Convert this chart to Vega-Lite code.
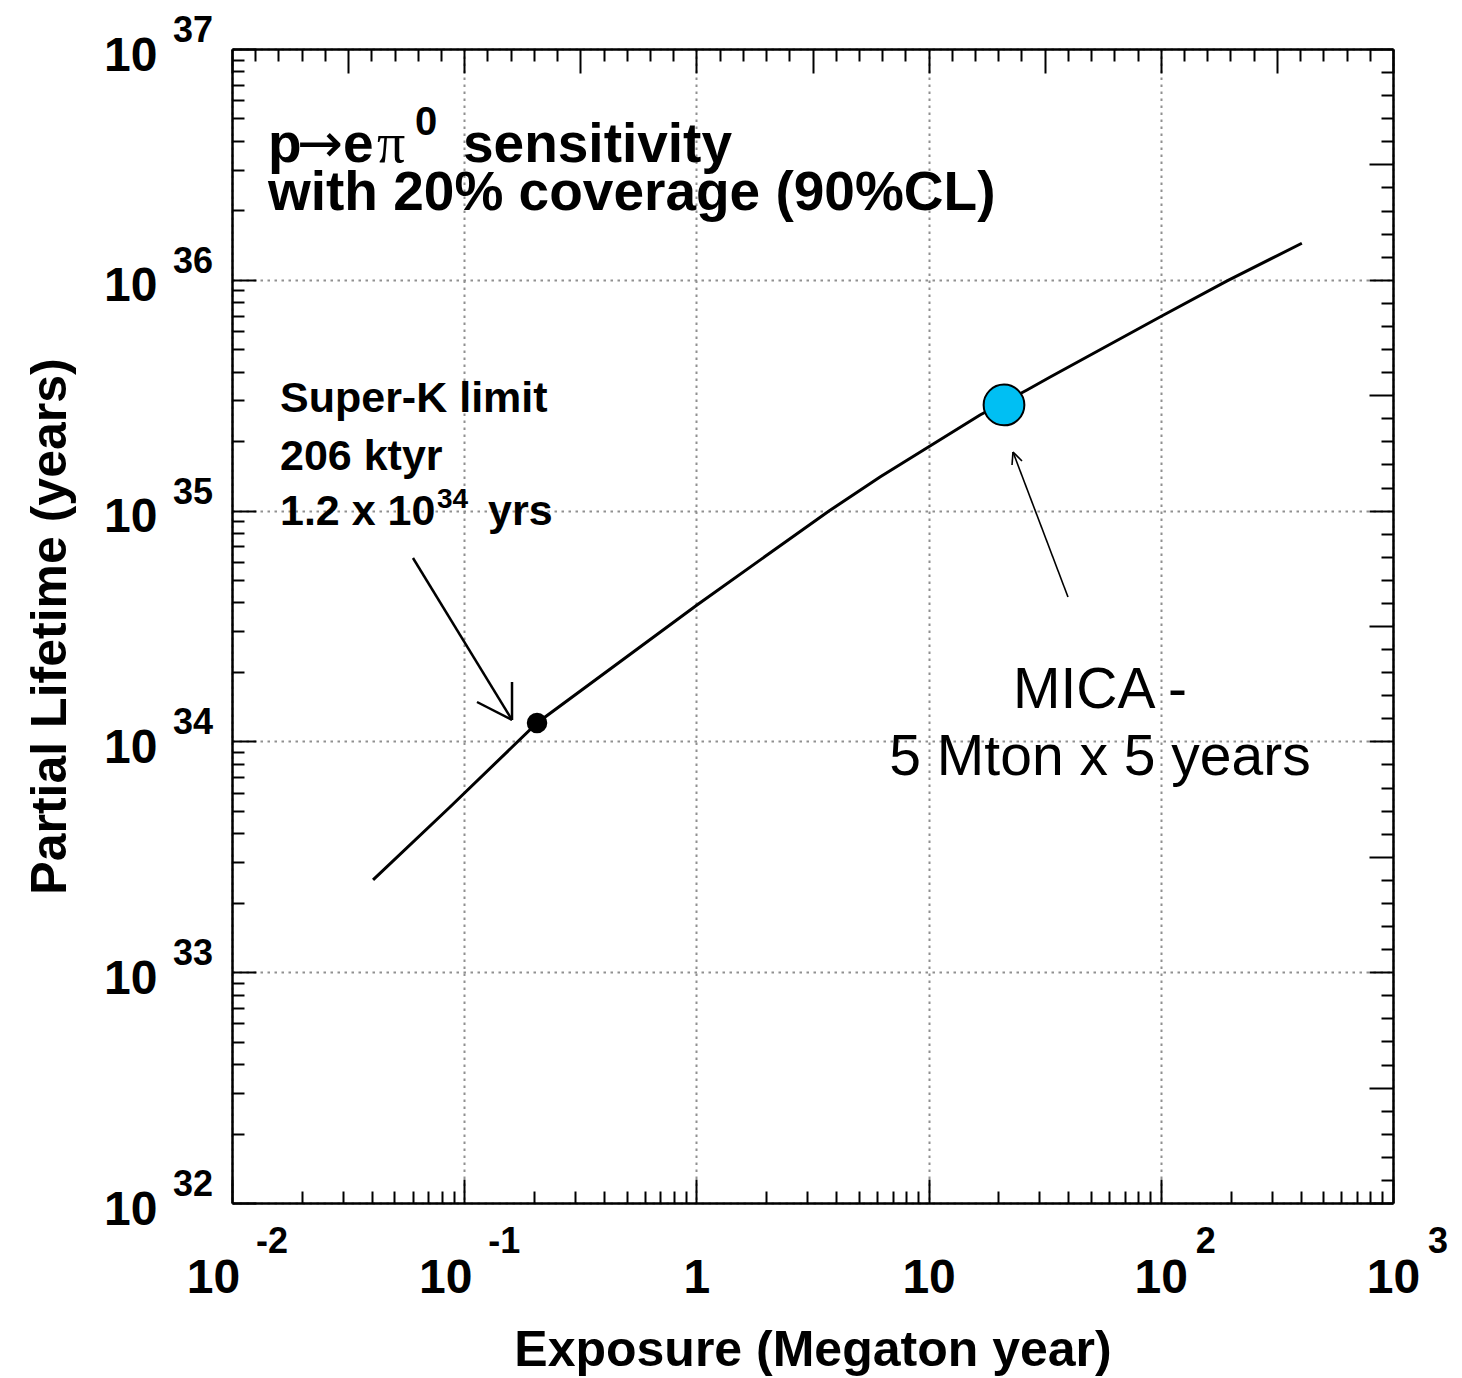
{
  "$schema": "https://vega.github.io/schema/vega-lite/v6.json",
  "width": 1161,
  "height": 1154,
  "autosize": {"type": "none"},
  "padding": {"left": 232, "top": 49, "right": 69, "bottom": 175},
  "background": "white",
  "config": {"view": {"stroke": null}, "font": "Liberation Sans"},
  "layer": [
    {
      "data": {"values": [
        {"exposure": 0.0405, "lifetime": 2.51e33},
        {"exposure": 0.08687, "lifetime": 5.197e33},
        {"exposure": 0.2059, "lifetime": 1.2015e34},
        {"exposure": 1.006, "lifetime": 3.90e34},
        {"exposure": 3.724, "lifetime": 9.96e34},
        {"exposure": 6.175, "lifetime": 1.398e35},
        {"exposure": 16.65, "lifetime": 2.596e35},
        {"exposure": 26.53, "lifetime": 3.331e35},
        {"exposure": 33.4, "lifetime": 3.79e35},
        {"exposure": 101, "lifetime": 6.97e35},
        {"exposure": 193, "lifetime": 9.89e35},
        {"exposure": 405, "lifetime": 1.44e36}
      ]},
      "mark": {"type": "line", "color": "black", "strokeWidth": 3},
      "encoding": {
        "x": {
          "field": "exposure", "type": "quantitative",
          "scale": {"type": "log", "domain": [0.01, 1000], "nice": false, "zero": false},
          "axis": {
            "orient": "bottom",
            "values": [0.01,0.02,0.03,0.04,0.05,0.06,0.07,0.08,0.09,0.1,0.2,0.3,0.4,0.5,0.6,0.7,0.8,0.9,1,2,3,4,5,6,7,8,9,10,20,30,40,50,60,70,80,90,100,200,300,400,500,600,700,800,900,1000],
            "labelExpr": "datum.value == 1 ? '1' : (abs(log(datum.value)/LN10 - round(log(datum.value)/LN10)) < 0.001 ? '10' : '')",
            "labelFont": "Liberation Sans", "labelFontWeight": "bold", "labelFontSize": 48, "labelColor": "black",
            "labelBaseline": "alphabetic", "labelAlign": "center",
            "labelPadding": 113,
            "labelOffset": {"condition": {"test": "datum.value < 0.5", "value": -19}, "value": 0},
            "labelOverlap": false, "labelFlush": false, "labelBound": false,
            "tickSize": {"condition": {"test": "abs(log(datum.value)/LN10 - round(log(datum.value)/LN10)) < 0.001", "value": -24}, "value": -12},
            "tickColor": "black", "tickWidth": 2,
            "grid": true, "gridColor": "#909090", "gridDash": [2.5, 4.5], "gridWidth": 2,
            "gridOpacity": {"condition": {"test": "abs(log(datum.value)/LN10 - round(log(datum.value)/LN10)) < 0.001", "value": 1}, "value": 0},
            "domainColor": "black", "domainWidth": 2.5,
            "title": "Exposure (Megaton year)",
            "titleFont": "Liberation Sans", "titleFontSize": 50, "titleFontWeight": "bold", "titleColor": "black",
            "titleBaseline": "alphabetic", "titleAlign": "center", "titleX": 580.5, "titleY": 162
          }
        },
        "y": {
          "field": "lifetime", "type": "quantitative",
          "scale": {"type": "log", "domain": [1e32, 1e37], "nice": false, "zero": false},
          "axis": {
            "orient": "left",
            "values": [1e32,2e32,3e32,4e32,5e32,6e32,7e32,8e32,9e32,1e33,2e33,3e33,4e33,5e33,6e33,7e33,8e33,9e33,1e34,2e34,3e34,4e34,5e34,6e34,7e34,8e34,9e34,1e35,2e35,3e35,4e35,5e35,6e35,7e35,8e35,9e35,1e36,2e36,3e36,4e36,5e36,6e36,7e36,8e36,9e36,1e37],
            "labelExpr": "abs(log(datum.value)/LN10 - round(log(datum.value)/LN10)) < 0.001 ? '10' : ''",
            "labelFont": "Liberation Sans", "labelFontWeight": "bold", "labelFontSize": 48, "labelColor": "black",
            "labelBaseline": "alphabetic", "labelAlign": "right",
            "labelPadding": 99, "labelOffset": 21,
            "labelOverlap": false, "labelFlush": false, "labelBound": false,
            "tickSize": {"condition": {"test": "abs(log(datum.value)/LN10 - round(log(datum.value)/LN10)) < 0.001", "value": -24}, "value": -12},
            "tickColor": "black", "tickWidth": 2,
            "grid": true, "gridColor": "#909090", "gridDash": [2.5, 4.5], "gridWidth": 2,
            "gridOpacity": {"condition": {"test": "abs(log(datum.value)/LN10 - round(log(datum.value)/LN10)) < 0.001", "value": 1}, "value": 0},
            "domainColor": "black", "domainWidth": 2.5,
            "title": "Partial Lifetime (years)",
            "titleFont": "Liberation Sans", "titleFontSize": 50, "titleFontWeight": "bold", "titleColor": "black",
            "titleBaseline": "alphabetic", "titleAlign": "center", "titleAngle": 270, "titleX": -167, "titleY": 577
          }
        }
      }
    },
    {
      "data": {"values": [{"exposure": 0.2059, "lifetime": 1.2015e34}]},
      "mark": {"type": "point", "shape": "circle", "filled": true, "color": "black", "size": 420, "opacity": 1},
      "encoding": {
        "x": {
          "field": "exposure", "type": "quantitative",
          "axis": {
            "orient": "top",
            "values": [0.01,0.01258925,0.01584893,0.01995262,0.02511886,0.03162278,0.03981072,0.05011872,0.06309573,0.07943282,0.1,0.1258925,0.1584893,0.1995262,0.2511886,0.3162278,0.3981072,0.5011872,0.6309573,0.7943282,1,1.258925,1.584893,1.995262,2.511886,3.162278,3.981072,5.011872,6.309573,7.943282,10,12.58925,15.84893,19.95262,25.11886,31.62278,39.81072,50.11872,63.09573,79.43282,100,125.8925,158.4893,199.5262,251.1886,316.2278,398.1072,501.1872,630.9573,794.3282,1000],
            "labels": false, "grid": false, "title": null,
            "tickSize": {"condition": {"test": "abs(2*log(datum.value)/LN10 - round(2*log(datum.value)/LN10)) < 0.01", "value": -24}, "value": -12},
            "tickColor": "black", "tickWidth": 2,
            "domainColor": "black", "domainWidth": 2.5
          }
        },
        "y": {
          "field": "lifetime", "type": "quantitative",
          "axis": {
            "orient": "right",
            "values": [1e32,1.258925e32,1.584893e32,1.995262e32,2.511886e32,3.162278e32,3.981072e32,5.011872e32,6.309573e32,7.943282e32,1e33,1.258925e33,1.584893e33,1.995262e33,2.511886e33,3.162278e33,3.981072e33,5.011872e33,6.309573e33,7.943282e33,1e34,1.258925e34,1.584893e34,1.995262e34,2.511886e34,3.162278e34,3.981072e34,5.011872e34,6.309573e34,7.943282e34,1e35,1.258925e35,1.584893e35,1.995262e35,2.511886e35,3.162278e35,3.981072e35,5.011872e35,6.309573e35,7.943282e35,1e36,1.258925e36,1.584893e36,1.995262e36,2.511886e36,3.162278e36,3.981072e36,5.011872e36,6.309573e36,7.943282e36,1e37],
            "labels": false, "grid": false, "title": null,
            "tickSize": {"condition": {"test": "abs(2*log(datum.value)/LN10 - round(2*log(datum.value)/LN10)) < 0.01", "value": -24}, "value": -12},
            "tickColor": "black", "tickWidth": 2,
            "domainColor": "black", "domainWidth": 2.5
          }
        }
      }
    },
    {
      "data": {"values": [{"exposure": 21.12, "lifetime": 2.868e35}]},
      "mark": {"type": "point", "shape": "circle", "filled": true, "fill": "#00bff3", "stroke": "black", "strokeWidth": 2, "size": 1660, "opacity": 1},
      "encoding": {
        "x": {"field": "exposure", "type": "quantitative", "axis": null},
        "y": {"field": "lifetime", "type": "quantitative", "axis": null}
      }
    },
    {
      "data": {"values": [
        {"exposure": 0.060166, "lifetime": 6.2318e34, "exposure2": 0.16066, "lifetime2": 1.2382e34},
        {"exposure": 0.11354, "lifetime": 1.4816e34, "exposure2": 0.16066, "lifetime2": 1.2382e34},
        {"exposure": 0.16066, "lifetime": 1.8088e34, "exposure2": 0.16066, "lifetime2": 1.2382e34}
      ]},
      "mark": {"type": "rule", "color": "black", "strokeWidth": 2.5},
      "encoding": {
        "x": {"field": "exposure", "type": "quantitative", "axis": null},
        "y": {"field": "lifetime", "type": "quantitative", "axis": null},
        "x2": {"field": "exposure2"},
        "y2": {"field": "lifetime2"}
      }
    },
    {
      "data": {"values": [
        {"exposure": 39.84, "lifetime": 4.2236e34, "exposure2": 23.09, "lifetime2": 1.7947e35},
        {"exposure": 22.87, "lifetime": 1.5760e35, "exposure2": 23.09, "lifetime2": 1.7947e35},
        {"exposure": 25.25, "lifetime": 1.6400e35, "exposure2": 23.09, "lifetime2": 1.7947e35}
      ]},
      "mark": {"type": "rule", "color": "black", "strokeWidth": 1.6},
      "encoding": {
        "x": {"field": "exposure", "type": "quantitative", "axis": null},
        "y": {"field": "lifetime", "type": "quantitative", "axis": null},
        "x2": {"field": "exposure2"},
        "y2": {"field": "lifetime2"}
      }
    },
    {
      "data": {"values": [
        {"exposure": 0.0142897, "lifetime": 3.2385e36, "label": "p"},
        {"exposure": 0.030069, "lifetime": 3.2385e36, "label": "e"},
        {"exposure": 0.098816, "lifetime": 3.2385e36, "label": "sensitivity"},
        {"exposure": 0.0142897, "lifetime": 2.0067e36, "label": "with 20% coverage (90%CL)"}
      ]},
      "mark": {"type": "text", "align": "left", "baseline": "alphabetic", "font": "Liberation Sans", "fontWeight": "bold", "fontSize": 55, "color": "black"},
      "encoding": {
        "x": {"field": "exposure", "type": "quantitative", "axis": null},
        "y": {"field": "lifetime", "type": "quantitative", "axis": null},
        "text": {"field": "label"}
      }
    },
    {
      "data": {"values": [{"exposure": 0.01905, "lifetime": 3.2385e36, "label": "→"}]},
      "mark": {"type": "text", "align": "left", "baseline": "alphabetic", "font": "DejaVu Sans", "fontSize": 55, "color": "black"},
      "encoding": {
        "x": {"field": "exposure", "type": "quantitative", "axis": null},
        "y": {"field": "lifetime", "type": "quantitative", "axis": null},
        "text": {"field": "label"}
      }
    },
    {
      "data": {"values": [{"exposure": 0.042117, "lifetime": 3.2385e36, "label": "π"}]},
      "mark": {"type": "text", "align": "left", "baseline": "alphabetic", "font": "Liberation Serif", "fontSize": 56, "color": "black"},
      "encoding": {
        "x": {"field": "exposure", "type": "quantitative", "axis": null},
        "y": {"field": "lifetime", "type": "quantitative", "axis": null},
        "text": {"field": "label"}
      }
    },
    {
      "data": {"values": [{"exposure": 0.061371, "lifetime": 4.2401e36, "label": "0"}]},
      "mark": {"type": "text", "align": "left", "baseline": "alphabetic", "font": "Liberation Sans", "fontWeight": "bold", "fontSize": 40, "color": "black"},
      "encoding": {
        "x": {"field": "exposure", "type": "quantitative", "axis": null},
        "y": {"field": "lifetime", "type": "quantitative", "axis": null},
        "text": {"field": "label"}
      }
    },
    {
      "data": {"values": [
        {"exposure": 0.016096, "lifetime": 2.6746e35, "label": "Super-K limit"},
        {"exposure": 0.016096, "lifetime": 1.4996e35, "label": "206 ktyr"},
        {"exposure": 0.016096, "lifetime": 8.6606e34, "label": "1.2 x 10"},
        {"exposure": 0.12659, "lifetime": 8.6606e34, "label": "yrs"}
      ]},
      "mark": {"type": "text", "align": "left", "baseline": "alphabetic", "font": "Liberation Sans", "fontWeight": "bold", "fontSize": 43, "color": "black"},
      "encoding": {
        "x": {"field": "exposure", "type": "quantitative", "axis": null},
        "y": {"field": "lifetime", "type": "quantitative", "axis": null},
        "text": {"field": "label"}
      }
    },
    {
      "data": {"values": [{"exposure": 0.076336, "lifetime": 1.0263e35, "label": "34"}]},
      "mark": {"type": "text", "align": "left", "baseline": "alphabetic", "font": "Liberation Sans", "fontWeight": "bold", "fontSize": 28, "color": "black"},
      "encoding": {
        "x": {"field": "exposure", "type": "quantitative", "axis": null},
        "y": {"field": "lifetime", "type": "quantitative", "axis": null},
        "text": {"field": "label"}
      }
    },
    {
      "data": {"values": [
        {"exposure": 54.72, "lifetime": 1.3958e34, "label": "MICA -"},
        {"exposure": 54.72, "lifetime": 7.1521e33, "label": "5 Mton x 5 years"}
      ]},
      "mark": {"type": "text", "align": "center", "baseline": "alphabetic", "font": "Liberation Sans", "fontSize": 57, "color": "black"},
      "encoding": {
        "x": {"field": "exposure", "type": "quantitative", "axis": null},
        "y": {"field": "lifetime", "type": "quantitative", "axis": null},
        "text": {"field": "label"}
      }
    },
    {
      "data": {"values": [
        {"lifetime": 1e32, "label": "32"},
        {"lifetime": 1e33, "label": "33"},
        {"lifetime": 1e34, "label": "34"},
        {"lifetime": 1e35, "label": "35"},
        {"lifetime": 1e36, "label": "36"},
        {"lifetime": 1e37, "label": "37"}
      ]},
      "mark": {"type": "text", "align": "left", "baseline": "alphabetic", "font": "Liberation Sans", "fontWeight": "bold", "fontSize": 36, "color": "black", "dx": -59, "dy": -7},
      "encoding": {
        "x": {"datum": 0.01, "type": "quantitative", "axis": null},
        "y": {"field": "lifetime", "type": "quantitative", "axis": null},
        "text": {"field": "label"}
      }
    },
    {
      "data": {"values": [
        {"exposure": 0.01, "label": "-2"},
        {"exposure": 0.1, "label": "-1"}
      ]},
      "mark": {"type": "text", "align": "left", "baseline": "alphabetic", "font": "Liberation Sans", "fontWeight": "bold", "fontSize": 36, "color": "black", "dx": 24, "dy": 50},
      "encoding": {
        "x": {"field": "exposure", "type": "quantitative", "axis": null},
        "y": {"datum": 1e32, "type": "quantitative", "axis": null},
        "text": {"field": "label"}
      }
    },
    {
      "data": {"values": [
        {"exposure": 100, "label": "2"},
        {"exposure": 1000, "label": "3"}
      ]},
      "mark": {"type": "text", "align": "left", "baseline": "alphabetic", "font": "Liberation Sans", "fontWeight": "bold", "fontSize": 36, "color": "black", "dx": 35, "dy": 50},
      "encoding": {
        "x": {"field": "exposure", "type": "quantitative", "axis": null},
        "y": {"datum": 1e32, "type": "quantitative", "axis": null},
        "text": {"field": "label"}
      }
    }
  ]
}
